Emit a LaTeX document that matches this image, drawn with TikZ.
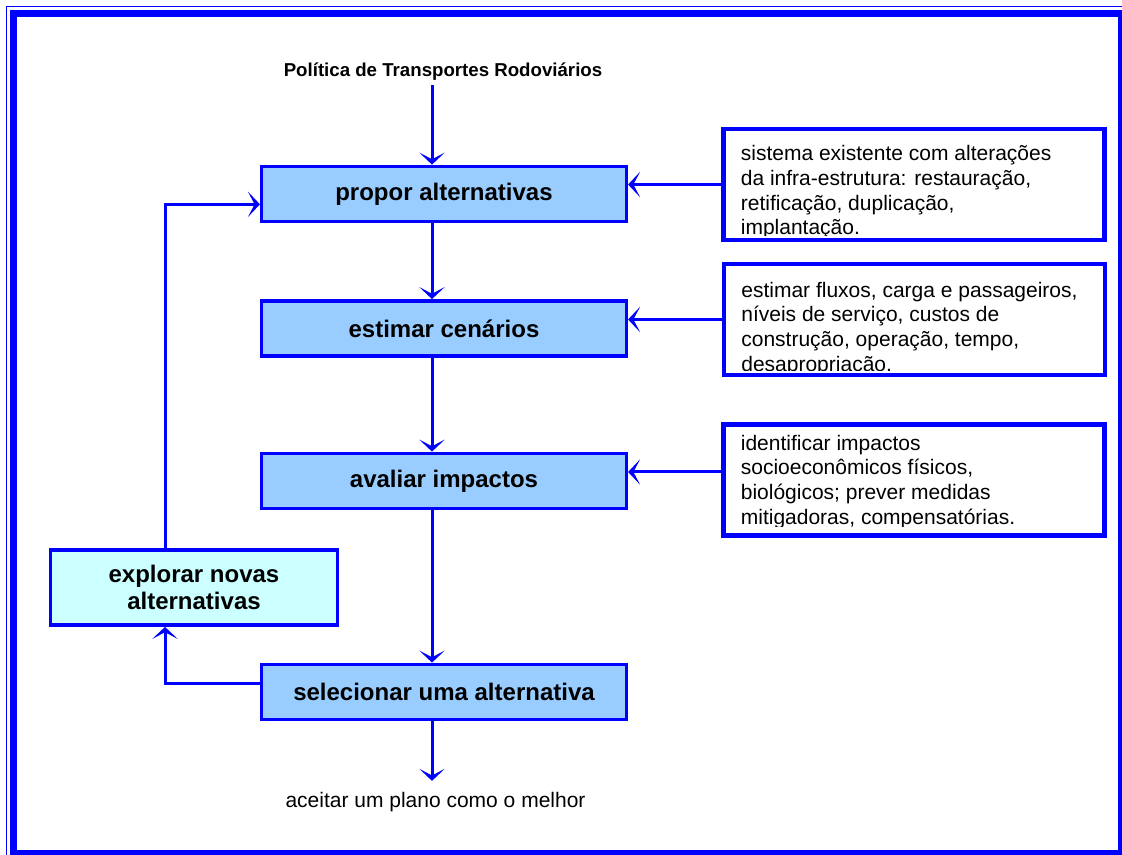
\documentclass[tikz,border=0pt]{standalone}
\usepackage{fontspec}
\setmainfont{Liberation Sans}
\usepackage{xcolor}
\usetikzlibrary{positioning,arrows.meta,calc}

\definecolor{lineblue}{HTML}{0000FF}
\definecolor{stepfill}{HTML}{99CCFF}
\definecolor{loopfill}{HTML}{CCFFFF}

\begin{document}
\begin{tikzpicture}[x=0.75pt, y=-0.75pt,
    stepbox/.style={draw=lineblue, fill=stepfill, line width=2.6pt,
        minimum width=273.5pt, minimum height=41.5pt, align=center,
        font=\bfseries\fontsize{18pt}{20.25pt}\selectfont},
    loopbox/.style={stepbox, fill=loopfill, minimum width=215pt, minimum height=56.5pt},
    notebox/.style={draw=lineblue, line width=3.6pt, minimum width=285.75pt, minimum height=83.25pt},
    notetext/.style={anchor=north west, inner sep=0pt, align=left,
        font=\fontsize{15.75pt}{18.6pt}\selectfont},
    conn/.style={draw=lineblue, line width=2.25pt,
        -{Stealth[length=9pt, width=19pt, inset=5pt]}}]

% Frame
\useasboundingbox (0,0) rectangle (1122,855);
\clip (0,0) rectangle (1122,855);
\draw[lineblue, line width=1pt] (6.3,6.3) rectangle (1140,870);
\draw[lineblue, line width=5.6pt] (13.5,13.5) rectangle (1121.5,853.5);

% Steps
\node[font=\bfseries\fontsize{14pt}{16pt}\selectfont] (politica) at (443,72) {Política de Transportes Rodoviários};
\node[stepbox] (propor) at (444,194) {propor alternativas};
\node[stepbox] (estimar) at (444,328.5) {estimar cenários};
\node[stepbox] (avaliar) at (444,481) {avaliar impactos};
\node[stepbox] (selecionar) at (444,692) {selecionar uma alternativa};
\node[loopbox] (explorar) at (194,587.5) {explorar novas\\alternativas};
\node[font=\fontsize{15.75pt}{18.5pt}\selectfont] (aceitar) at (435.5,802) {aceitar um plano como o melhor};

% Notes
\node[notebox] (notesA) at (914,184.5) {};
\node[notebox] (notesB) at (914.5,319.5) {};
\node[notebox] (notesC) at (914,480) {};
\begin{scope}
    \clip (notesA.north west) rectangle ([yshift=5pt]notesA.south east);
    \node[notetext] (textA) at ($(notesA.north west)+(19.5,18.5)$)
        {sistema existente com alterações\\da infra-estrutura: restauração,\\retificação, duplicação,\\implantação.};
\end{scope}
\begin{scope}
    \clip (notesB.north west) rectangle ([yshift=5pt]notesB.south east);
    \node[notetext] (textB) at ($(notesB.north west)+(19.5,20)$)
        {estimar fluxos, carga e passageiros,\\níveis de serviço, custos de\\construção, operação, tempo,\\desapropriação.};
\end{scope}
\begin{scope}
    \clip (notesC.north west) rectangle ([yshift=8.5pt]notesC.south east);
    \node[notetext] (textC) at ($(notesC.north west)+(19.5,12.5)$)
        {identificar impactos\\socioeconômicos físicos,\\biológicos; prever medidas\\mitigadoras, compensatórias.};
\end{scope}

% Connectors
\coordinate (spine) at (432,0);
\coordinate (back) at (165,0);
\draw[conn] (politica.south -| spine) -- (propor.north -| spine);
\draw[conn] (propor.south -| spine) -- (estimar.north -| spine);
\draw[conn] (estimar.south -| spine) -- (avaliar.north -| spine);
\draw[conn] (avaliar.south -| spine) -- (selecionar.north -| spine);
\draw[conn] (selecionar.south -| spine) -- ([yshift=5pt]aceitar.north -| spine);
\draw[conn] (notesA.west) -- (notesA.west -| propor.east);
\draw[conn] (notesB.west) -- (notesB.west -| estimar.east);
\draw[conn] ([yshift=6pt]notesC.west) -- ([yshift=6pt]notesC.west -| avaliar.east);
\draw[conn] ([yshift=6.75pt]selecionar.west) -| (explorar.south -| back);
\draw[conn] (explorar.north -| back) |- ([yshift=-7.75pt]propor.west);
\end{tikzpicture}
\end{document}
